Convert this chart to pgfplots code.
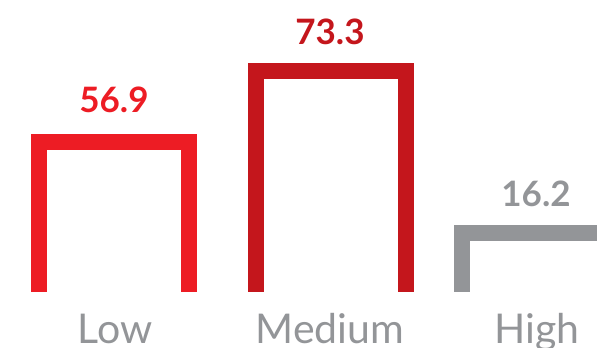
\documentclass[border=0pt]{standalone}
\usepackage{pgfplots}
\pgfplotsset{compat=1.18}
\usepackage{fontspec}
\setmainfont{Lato}
\definecolor{cLow}{HTML}{ED1C24}
\definecolor{cMed}{HTML}{C4161C}
\definecolor{cHigh}{HTML}{939598}
\begin{document}
\begin{tikzpicture}
\path[use as bounding box] (0,0) rectangle (597pt,348pt);
\clip (0,0) rectangle (597pt,348pt);
\begin{axis}[anchor=origin, at={(0pt,56pt)}, x=1pt, y=1pt,
  xmin=0, xmax=597, ymin=-56, ymax=292, hide axis, clip=false,
  every axis plot/.append style={line width=16pt, line join=miter, line cap=butt}]
% bar outlines (open at bottom): Low, Medium, High
\addplot[cLow] coordinates {(39,0) (39,150) (189,150) (189,0)};
\addplot[cMed] coordinates {(256,0) (256,221) (406,221) (406,0)};
\addplot[cHigh] coordinates {(462,0) (462,59) (612,59) (612,0)};
% value labels
\node[anchor=base, inner sep=0pt, text=cLow, font=\fontsize{35}{37}\selectfont\bfseries] at (axis cs:114,179) {56.9};
\node[anchor=base, inner sep=0pt, text=cMed, font=\fontsize{35}{37}\selectfont\bfseries] at (axis cs:330,247) {73.3};
\node[anchor=base, inner sep=0pt, text=cHigh, font=\fontsize{35}{37}\selectfont\bfseries] at (axis cs:536,85) {16.2};
% category labels
\node[anchor=base, inner sep=0pt, text=cHigh, font=\fontsize{41}{43}\selectfont] at (axis cs:115,-51) {Low};
\node[anchor=base, inner sep=0pt, text=cHigh, font=\fontsize{41}{43}\selectfont] at (axis cs:330,-51) {Medium};
\node[anchor=base, inner sep=0pt, text=cHigh, font=\fontsize{41}{43}\selectfont] at (axis cs:537,-51) {High};
\end{axis}
\end{tikzpicture}
\end{document}
